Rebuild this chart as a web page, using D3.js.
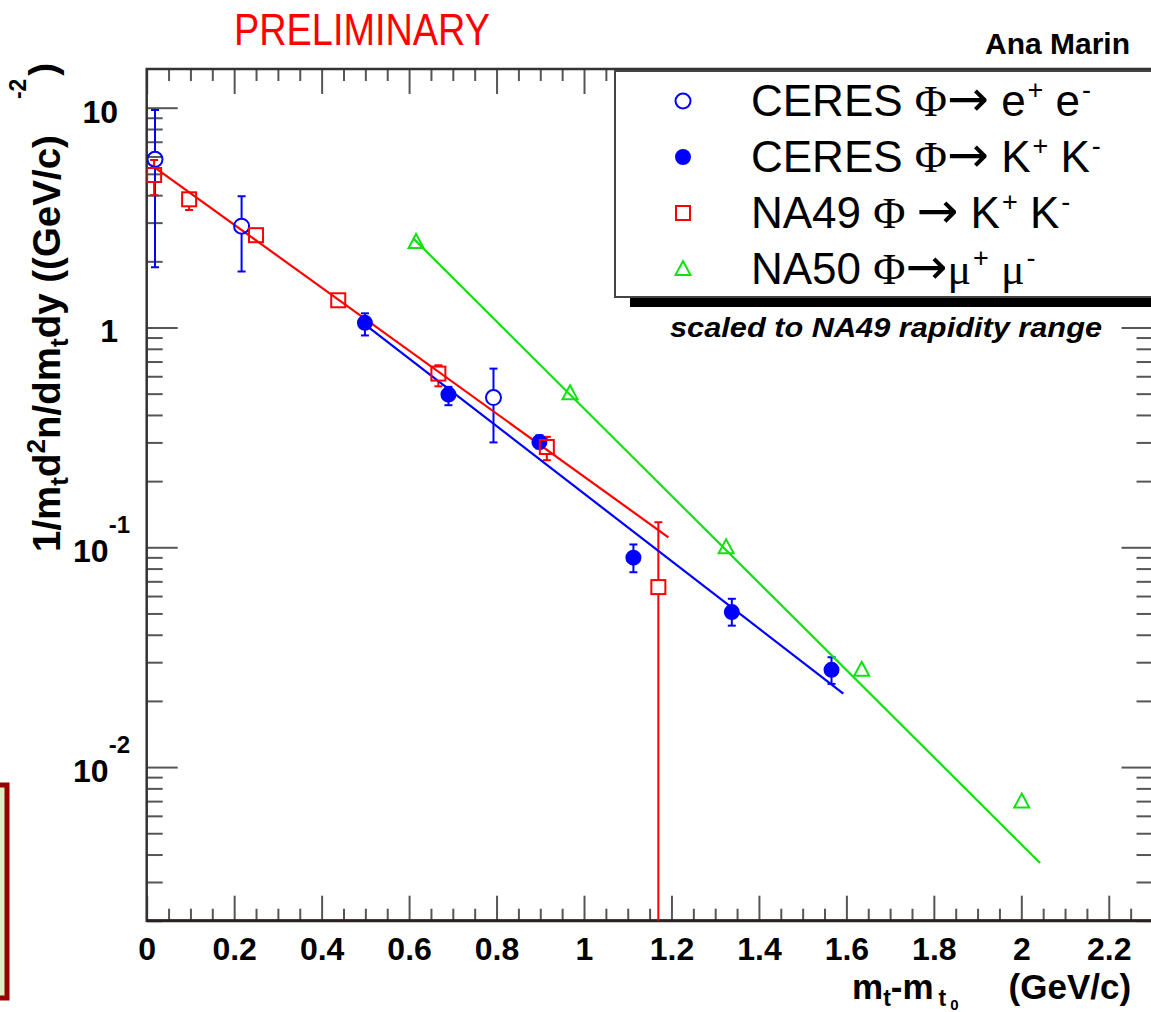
<!DOCTYPE html>
<html>
<head>
<meta charset="utf-8">
<script src="https://cdnjs.cloudflare.com/ajax/libs/d3/7.8.5/d3.min.js"></script>
<style>
body { margin: 0; background: #fff; }
text { font-family: "Liberation Sans", Arial, Helvetica, sans-serif; }
</style>
</head>
<body>
<svg id="SVGcanvas" width="1151" height="1012"></svg>
<script>
// values
var ceresEE_x  = [0.019, 0.217, 0.793];
var ceresEE_y  = [5.82, 2.89, 0.48];
var ceresEE_hi = [9.76, 3.96, 0.65];
var ceresEE_lo = [1.88, 1.80, 0.30];

var ceresKK_x  = [0.499, 0.690, 0.898, 1.113, 1.338, 1.566];
var ceresKK_y  = [1.05, 0.495, 0.301, 0.0897, 0.0507, 0.0277];
var ceresKK_hi = [1.16, 0.537, 0.323, 0.103, 0.0583, 0.0316];
var ceresKK_lo = [0.92, 0.443, 0.282, 0.077, 0.044, 0.0239];

var na49_x  = [0.017, 0.097, 0.250, 0.438, 0.667, 0.915, 1.170];
var na49_y  = [4.94, 3.83, 2.63, 1.33, 0.617, 0.286, 0.0659];
var na49_hi = [5.78, 4.09, 2.72, 1.37, 0.673, 0.318, 0.130];
var na49_lo = [4.00, 3.42, 2.55, 1.29, 0.540, 0.249, 0.0001];

var na50_x = [0.616, 0.968, 1.325, 1.635, 2.001];
var na50_y = [2.45, 0.502, 0.100, 0.0277, 0.00697];

// exponential fits (end points)
var fitNA49  = [[0.010, 5.50], [1.193, 0.111]];
var fitCERES = [[0.495, 1.046], [1.593, 0.0216]];
var fitNA50  = [[0.609, 2.55], [2.043, 0.00366]];

var xTicks = [0, 0.2, 0.4, 0.6, 0.8, 1, 1.2, 1.4, 1.6, 1.8, 2, 2.2];
var yTicks = [0.01, 0.1, 1, 10];
var yTickBase = ["10", "10", "1", "10"];
var yTickExp = ["-2", "-1", "", ""];

var BLUE = "#0000ff", RED = "#ff0000", GREEN = "#11e011";
var SERIF = "'Liberation Serif', 'DejaVu Serif', serif";

var svg = d3.select("#SVGcanvas");
var x = d3.scaleLinear().domain([0, 2.3]).range([146.7, 1152.5]);
var y = d3.scaleLog().domain([0.002, 15]).range([920.7, 69]);

var L = x.range()[0], R = x.range()[1], T = y.range()[1], B = y.range()[0];

// minor tick positions
var xMinor = d3.range(0, 2.3001, 0.05).filter(function(v) { return Math.abs(v / 0.2 - Math.round(v / 0.2)) > 1e-6; });
var yMinor = [];
[0.001, 0.01, 0.1, 1, 10].forEach(function(d) {
    for (var k = 2; k <= 9; k++) {
        var v = d * k;
        if (v >= 0.002 && v <= 15) yMinor.push(v);
    }
});

svg.append("defs").append("clipPath").attr("id", "plotClip")
    .append("rect").attr("x", L).attr("y", T).attr("width", R - L).attr("height", B - T);

// dark red box on the left edge
svg.append("rect").attr("x", -4).attr("y", 785).attr("width", 11).attr("height", 213)
    .style("fill", "#d8f2c8").style("stroke", "#990000").style("stroke-width", 5);

// ticks
function ticks(axisFn, scale, values, size, tr) {
    var g = svg.append("g").attr("transform", tr)
        .call(axisFn(scale).tickValues(values).tickSizeInner(size).tickSizeOuter(0).tickFormat(""));
    g.select(".domain").remove();
    g.selectAll("line").style("stroke", "#555").style("stroke-width", 2);
}
ticks(d3.axisBottom, x, xTicks, -25, "translate(0," + B + ")");
ticks(d3.axisBottom, x, xMinor, -12, "translate(0," + B + ")");
ticks(d3.axisTop, x, xTicks, -25, "translate(0," + T + ")");
ticks(d3.axisTop, x, xMinor, -12, "translate(0," + T + ")");
ticks(d3.axisLeft, y, yTicks, -31, "translate(" + L + ",0)");
ticks(d3.axisLeft, y, yMinor, -16, "translate(" + L + ",0)");
ticks(d3.axisRight, y, yTicks, -31, "translate(" + R + ",0)");
ticks(d3.axisRight, y, yMinor, -16, "translate(" + R + ",0)");

// frame
svg.append("rect").attr("x", L).attr("y", T).attr("width", R - L).attr("height", B - T)
    .style("fill", "none").style("stroke", "#333").style("stroke-width", 2.5);
svg.append("line").attr("x1", L).attr("x2", R).attr("y1", B).attr("y2", B)
    .style("stroke", "#2a2020").style("stroke-width", 3);

// x tick labels
var xLab = svg.append("g").attr("transform", "translate(0," + B + ")")
    .call(d3.axisBottom(x).tickValues(xTicks).tickSize(0).tickPadding(16.5).tickFormat(d3.format("~g")));
xLab.select(".domain").remove();
xLab.selectAll("text").style("font-size", "32px").style("font-weight", "bold")
    .style("font-family", "'Liberation Sans', Arial, sans-serif").style("fill", "#000");

// y tick labels
yTicks.forEach(function(v, i) {
    var t = svg.append("text").attr("y", y(v) + 15).attr("text-anchor", "end")
        .style("font-size", "32px").style("font-weight", "bold");
    if (yTickExp[i] === "") {
        t.attr("x", 118).text(yTickBase[i]);
    } else {
        t.attr("x", 130);
        t.append("tspan").text(yTickBase[i]);
        t.append("tspan").attr("dy", -29).style("font-size", "24px").text(yTickExp[i]);
    }
});

// axis titles
var yTitle = svg.append("text").attr("transform", "translate(60,552) rotate(-90)")
    .style("font-size", "38.5px").style("font-weight", "bold");
yTitle.append("tspan").text("1/m");
yTitle.append("tspan").attr("dy", 8).style("font-size", "26px").text("t");
yTitle.append("tspan").attr("dy", -8).text("d");
yTitle.append("tspan").attr("dy", -15).style("font-size", "26px").text("2");
yTitle.append("tspan").attr("dy", 15).text("n/dm");
yTitle.append("tspan").attr("dy", 8).style("font-size", "26px").text("t");
yTitle.append("tspan").attr("dy", -8).text("dy ((GeV/c)");
yTitle.append("tspan").attr("dx", 36).attr("dy", -34).style("font-size", "23px").text("-2");
yTitle.append("tspan").attr("dx", 3).attr("dy", 30).text(")");

var xTitle = svg.append("text").attr("x", 852).attr("y", 999)
    .style("font-size", "35px").style("font-weight", "bold");
xTitle.append("tspan").text("m");
xTitle.append("tspan").attr("dy", 7).style("font-size", "23px").text("t");
xTitle.append("tspan").attr("dy", -7).text("-m");
xTitle.append("tspan").attr("dx", 5).attr("dy", 7).style("font-size", "23px").text("t");
xTitle.append("tspan").attr("dx", 4).attr("dy", 4).style("font-size", "15px").text("0");
xTitle.append("tspan").attr("dx", 50).attr("dy", -11).text("(GeV/c)");

// other texts
svg.append("text").attr("x", 234).attr("y", 45).attr("textLength", 256).attr("lengthAdjust", "spacingAndGlyphs")
    .style("font-size", "44px").style("fill", RED).text("PRELIMINARY");
svg.append("text").attr("x", 1130).attr("y", 54).attr("text-anchor", "end")
    .style("font-size", "30px").style("font-weight", "bold").text("Ana Marin");
svg.append("text").attr("x", 670).attr("y", 337).attr("textLength", 432).attr("lengthAdjust", "spacingAndGlyphs")
    .style("font-size", "28px").style("font-weight", "bold").style("font-style", "italic")
    .text("scaled to NA49 rapidity range");

// plot contents
var plot = svg.append("g").attr("clip-path", "url(#plotClip)");

function fitLine(pts, color) {
    plot.append("path").datum(pts)
        .attr("d", d3.line().x(function(d) { return x(d[0]); }).y(function(d) { return y(d[1]); }))
        .style("fill", "none").style("stroke", color).style("stroke-width", 2.2);
}

function errorBars(xs, ys, his, los, color, gap) {
    xs.forEach(function(xv, i) {
        var px = x(xv), py = y(ys[i]);
        var yHi = y(his[i]), yLo = y(Math.max(los[i], 1e-6));
        if (py - gap > yHi) {
            plot.append("line").attr("x1", px).attr("x2", px).attr("y1", yHi).attr("y2", py - gap)
                .style("stroke", color).style("stroke-width", 2);
            plot.append("line").attr("x1", px - 4).attr("x2", px + 4).attr("y1", yHi).attr("y2", yHi)
                .style("stroke", color).style("stroke-width", 2);
        }
        if (yLo > py + gap) {
            plot.append("line").attr("x1", px).attr("x2", px).attr("y1", py + gap).attr("y2", yLo)
                .style("stroke", color).style("stroke-width", 2);
            plot.append("line").attr("x1", px - 4).attr("x2", px + 4).attr("y1", yLo).attr("y2", yLo)
                .style("stroke", color).style("stroke-width", 2);
        }
    });
}

function marker(g, kind, cx, cy, color) {
    if (kind === "circle" || kind === "dot") {
        g.append("circle").attr("cx", cx).attr("cy", cy).attr("r", kind === "dot" ? 7 : 7.5)
            .style("fill", kind === "dot" ? color : "none").style("stroke", color).style("stroke-width", 2);
    } else if (kind === "square") {
        g.append("rect").attr("x", cx - 7).attr("y", cy - 7).attr("width", 14).attr("height", 14)
            .style("fill", "none").style("stroke", color).style("stroke-width", 2);
    } else {
        g.append("path").attr("d", "M" + cx + "," + (cy - 8) + "L" + (cx + 7.5) + "," + (cy + 6) + "L" + (cx - 7.5) + "," + (cy + 6) + "Z")
            .style("fill", "none").style("stroke", color).style("stroke-width", 2);
    }
}

function series(xs, ys, kind, color) {
    xs.forEach(function(xv, i) { marker(plot, kind, x(xv), y(ys[i]), color); });
}

errorBars(ceresEE_x, ceresEE_y, ceresEE_hi, ceresEE_lo, BLUE, 7.5);
errorBars(ceresKK_x, ceresKK_y, ceresKK_hi, ceresKK_lo, BLUE, 6);
errorBars(na49_x, na49_y, na49_hi, na49_lo, RED, 7);

fitLine(fitNA49, RED);
fitLine(fitCERES, BLUE);
fitLine(fitNA50, GREEN);

series(ceresEE_x, ceresEE_y, "circle", BLUE);
series(ceresKK_x, ceresKK_y, "dot", BLUE);
series(na49_x, na49_y, "square", RED);
series(na50_x, na50_y, "triangle", GREEN);

// legend
var legendRows = [
    { kind: "circle", color: BLUE, parts: [["CERES "], ["\u03A6", "s"], ["\u2192", "a"], [" e"], ["+", "sup"], [" e"], ["-", "sup"]] },
    { kind: "dot", color: BLUE, parts: [["CERES "], ["\u03A6", "s"], ["\u2192", "a"], [" K"], ["+", "sup"], [" K"], ["-", "sup"]] },
    { kind: "square", color: RED, parts: [["NA49 "], ["\u03A6 ", "s"], ["\u2192", "a"], [" K"], ["+", "sup"], [" K"], ["-", "sup"]] },
    { kind: "triangle", color: GREEN, parts: [["NA50 "], ["\u03A6", "s"], ["\u2192", "a"], ["\u03BC", "s"], ["+", "sup"], [" "], ["\u03BC", "s"], ["-", "sup"]] }
];
var legendY = [101, 157, 213, 269];

var leg = svg.append("g");
leg.append("rect").attr("x", 630).attr("y", 82).attr("width", 560).attr("height", 225).style("fill", "#000");
leg.append("rect").attr("x", 615).attr("y", 71).attr("width", 560).attr("height", 226)
    .style("fill", "#fff").style("stroke", "#444").style("stroke-width", 2);

legendRows.forEach(function(row, i) {
    var cy = legendY[i];
    marker(leg, row.kind, 683, cy, row.color);
    var t = leg.append("text").attr("x", 751).attr("y", cy + 15).style("font-size", "44px");
    var raised = false;
    row.parts.forEach(function(p) {
        var s = t.append("tspan").text(p[0]);
        if (p[1] === "s") s.style("font-family", SERIF);
        if (p[1] === "a") s.style("font-family", "'DejaVu Sans', sans-serif").style("font-size", "50px");
        if (p[1] === "sup") {
            s.style("font-size", "27px").attr("dy", -17).attr("dx", 2);
            raised = true;
        } else if (raised) {
            s.attr("dy", 17);
            raised = false;
        }
    });
});
</script>
</body>
</html>
